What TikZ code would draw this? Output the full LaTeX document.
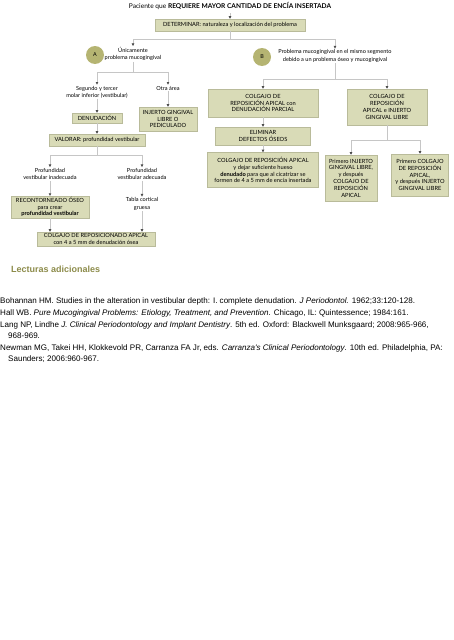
\documentclass[tikz,border=0pt]{standalone}
\usepackage{fontspec}
\setmainfont{Lato}
\newfontfamily\biblio{Liberation Sans}
\usetikzlibrary{arrows.meta}
\definecolor{boxfill}{HTML}{D9DBB7}
\definecolor{boxline}{HTML}{B9BB9A}
\definecolor{badgefill}{HTML}{B5B472}
\definecolor{heading}{HTML}{8C8B4A}
\definecolor{wirecol}{HTML}{C6C6C6}

\begin{document}
\begin{tikzpicture}[x=1pt,y=-1pt,
  box/.style={draw=boxline,fill=boxfill,align=center,inner sep=1pt,
    font=\fontsize{5.7}{6.8}\selectfont},
  txt/.style={align=center,inner sep=1pt,font=\fontsize{5.6}{7.3}\selectfont},
  wire/.style={draw=wirecol,line width=0.6pt},
  tip/.style={wire,-{Triangle[length=2.6pt,width=2.4pt,color=black!70]}},
  badge/.style={circle,fill=badgefill,minimum size=18pt,inner sep=0pt,
    font=\fontsize{5.4}{6}\selectfont},
  ref/.style={anchor=base west,inner sep=0pt,font=\biblio\fontsize{8.05}{9}\selectfont}]
\useasboundingbox (0,0) rectangle (453,640);

% top
\node[font=\fontsize{6.6}{7}\selectfont] (title) at (230,6)
  {Paciente que \textbf{REQUIERE MAYOR CANTIDAD DE ENCÍA INSERTADA}};
\node[box,minimum width=150pt,minimum height=12pt] (det) at (230,25)
  {DETERMINAR: naturaleza y localización del problema};
\draw[tip] (title.south) -- (det.north);

\coordinate (topL) at (133,39);
\coordinate (topR) at (335,39);
\draw[wire] (det.south) -- (det.south |- topL);
\draw[wire] (topL) -- (topR);

\node[badge] (ca) at (95,55) {A};
\node[txt] (ta) at (133,54) {Únicamente\\problema mucogingival};
\node[badge] (cb) at (262,57) {B};
\node[txt] (tb) at (335,56) {Problema mucogingival en el mismo segmento\\debido a un problema óseo y mucogingival};
\draw[tip] (topL) -- (ta.north);
\draw[tip] (topR) -- (tb.north);

% branch A
\coordinate (a1) at (97,72);
\coordinate (a2) at (168,72);
\draw[wire] (ta.south) -- (ta.south |- a1);
\draw[wire] (a1) -- (a2);
\node[txt] (seg) at (97,92) {Segundo y tercer\\molar inferior (vestibular)};
\node[txt] (otra) at (168,88) {Otra área};
\draw[tip] (a1) -- (seg.north);
\draw[tip] (a2) -- (otra.north);

\node[box,minimum width=50pt,minimum height=10pt] (denud) at (97,118) {DENUDACIÓN};
\node[box,minimum width=58pt,minimum height=24pt] (injerto) at (168,119)
  {INJERTO GINGIVAL\\LIBRE O\\PEDICULADO};
\draw[tip] (seg.south) -- (denud.north);
\draw[tip] (otra.south) -- (injerto.north);

\node[box,minimum width=96pt,minimum height=12pt] (valorar) at (97,140)
  {VALORAR: profundidad vestibular};
\draw[tip] (denud.south) -- (valorar.north);

\coordinate (v1) at (50,155);
\coordinate (v2) at (142,155);
\draw[wire] (valorar.south) -- (valorar.south |- v1);
\draw[wire] (v1) -- (v2);
\node[txt] (inad) at (50,174) {Profundidad\\vestibular inadecuada};
\node[txt] (adec) at (142,174) {Profundidad\\vestibular adecuada};
\draw[tip] (v1) -- (inad.north);
\draw[tip] (v2) -- (adec.north);

\node[box,minimum width=78pt,minimum height=20pt] (recont) at (50,207)
  {RECONTORNEADO ÓSEO\\para crear\\\textbf{profundidad vestibular}};
\node[txt] (tabla) at (142,204) {Tabla cortical\\gruesa};
\draw[tip] (inad.south) -- (recont.north);
\draw[tip] (adec.south) -- (tabla.north);

\node[box,minimum width=118pt,minimum height=14pt] (colgA) at (96,239)
  {COLGAJO DE REPOSICIONADO APICAL\\con 4 a 5 mm de denudación ósea};
\draw[tip] (recont.south) -- (recont.south |- colgA.north);
\draw[tip] (tabla.south) -- (tabla.south |- colgA.north);

% branch B
\coordinate (b1) at (263,79);
\coordinate (b2) at (387,79);
\draw[wire] (tb.south) -- (tb.south |- b1);
\draw[wire] (b1) -- (b2);
\node[box,minimum width=110pt,minimum height=28pt] (r1) at (263,103)
  {COLGAJO DE\\REPOSICIÓN APICAL con\\DENUDACIÓN PARCIAL};
\node[box,minimum width=80pt,minimum height=36pt] (r2) at (387,107)
  {COLGAJO DE\\REPOSICIÓN\\APICAL e INJERTO\\GINGIVAL LIBRE};
\draw[tip] (b1) -- (r1.north);
\draw[tip] (b2) -- (r2.north);

\node[box,minimum width=95pt,minimum height=18pt] (elim) at (263,136)
  {ELIMINAR\\DEFECTOS ÓSEOS};
\node[box,minimum width=111pt,minimum height=35pt] (r1b) at (263,170)
  {COLGAJO DE REPOSICIÓN APICAL\\y dejar suficiente hueso\\\textbf{denudado} para que al cicatrizar se\\formen de 4 a 5 mm de encía insertada};
\draw[tip] (r1.south) -- (elim.north);
\draw[tip] (elim.south) -- (r1b.north);

\coordinate (c1) at (351,140);
\coordinate (c2) at (420,140);
\draw[wire] (r2.south) -- (r2.south |- c1);
\draw[wire] (c1) -- (c2);
\node[box,minimum width=52pt,minimum height=46pt] (r2a) at (351,178)
  {Primero INJERTO\\GINGIVAL LIBRE,\\y después\\COLGAJO DE\\REPOSICIÓN\\APICAL};
\node[box,minimum width=57pt,minimum height=42pt] (r2b) at (420,175)
  {Primero COLGAJO\\DE REPOSICIÓN\\APICAL,\\y después INJERTO\\GINGIVAL LIBRE};
\draw[tip] (c1) -- (r2a.north);
\draw[tip] (c2) -- (r2b.north);

% readings
\node[anchor=base west,inner sep=0pt,text=heading,font=\biblio\bfseries\fontsize{9}{10}\selectfont]
  (lect) at (11,272) {Lecturas adicionales};
\node[ref] (ref1) at (0,303) {Bohannan HM. Studies in the alteration in vestibular depth: I. complete denudation. \textit{J Periodontol.} 1962;33:120-128.};
\node[ref] (ref2) at (0,315) {Hall WB. \textit{Pure Mucogingival Problems: Etiology, Treatment, and Prevention}. Chicago, IL: Quintessence; 1984:161.};
\node[ref] (ref3) at (0,327) {Lang NP, Lindhe \textit{J. Clinical Periodontology and Implant Dentistry}. 5th ed. Oxford: Blackwell Munksgaard; 2008:965-966,};
\node[ref] (ref3b) at (8,338) {968-969.};
\node[ref] (ref4) at (0,350) {Newman MG, Takei HH, Klokkevold PR, Carranza FA Jr, eds. \textit{Carranza's Clinical Periodontology}. 10th ed. Philadelphia, PA:};
\node[ref] (ref4b) at (8,361) {Saunders; 2006:960-967.};
\end{tikzpicture}
\end{document}
